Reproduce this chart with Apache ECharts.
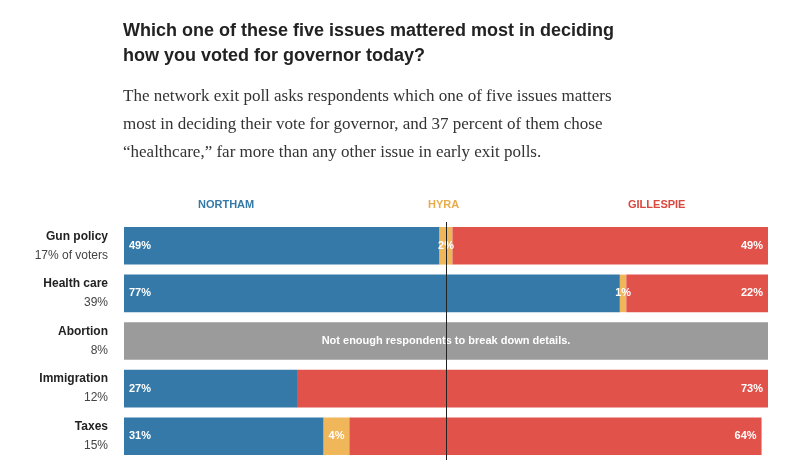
<!DOCTYPE html>
<html>
<head>
<meta charset="utf-8">
<script src="https://cdn.jsdelivr.net/npm/echarts@6/dist/echarts.min.js"></script>
<style>body{margin:0;background:#fff}#c{width:800px;height:476px}</style>
</head>
<body>
<div id="c"></div>
<script>
var issues = ['Gun policy', 'Health care', 'Abortion', 'Immigration', 'Taxes'];
var voterShare = ['17% of voters', '39%', '8%', '12%', '15%'];
var northam = [49, 77, null, 27, 31];
var hyra = [2, 1, null, 0, 4];
var gillespie = [49, 22, null, 73, 64];
var noData = [null, null, 100, null, null];

var chart = echarts.init(document.getElementById('c'));
var lbl = function (pos) {
    return {
        show: true, position: pos, color: '#fff', fontWeight: 'bold',
        fontSize: 11, fontFamily: 'Arial',
        formatter: function (p) { return p.value ? p.value + '%' : ''; }
    };
};
var option = {
    animation: false,
    title: {
        text: 'Which one of these five issues mattered most in deciding\nhow you voted for governor today?',
        left: 118, top: 14,
        textStyle: { fontFamily: 'Arial', fontSize: 18, fontWeight: 'bold', color: '#222', lineHeight: 25 },
        subtext: 'The network exit poll asks respondents which one of five issues matters\nmost in deciding their vote for governor, and 37 percent of them chose\n\u201chealthcare,\u201d far more than any other issue in early exit polls.',
        subtextStyle: { fontFamily: 'Liberation Serif', fontSize: 17, color: '#333', lineHeight: 28 },
        itemGap: 14
    },
    graphic: [
        { type: 'text', left: 198, top: 199, style: { text: 'NORTHAM', fill: '#3579a8', font: 'bold 11px Arial' } },
        { type: 'text', left: 428, top: 199, style: { text: 'HYRA', fill: '#e8ac4c', font: 'bold 11px Arial' } },
        { type: 'text', left: 628, top: 199, style: { text: 'GILLESPIE', fill: '#d9473f', font: 'bold 11px Arial' } }
    ],
    grid: { left: 124, right: 32, top: 222, bottom: 16 },
    xAxis: { type: 'value', min: 0, max: 100, show: false },
    yAxis: {
        type: 'category', data: issues, inverse: true,
        axisLine: { show: false }, axisTick: { show: false },
        axisLabel: {
            margin: 16, align: 'right',
            formatter: function (v, i) { return '{a|' + v + '}\n{b|' + voterShare[i] + '}'; },
            rich: {
                a: { fontFamily: 'Arial', fontWeight: 'bold', fontSize: 12, color: '#222', align: 'right', lineHeight: 19 },
                b: { fontFamily: 'Arial', fontSize: 12, color: '#444', align: 'right', lineHeight: 19 }
            }
        }
    },
    series: [
        { type: 'bar', stack: 's', name: 'Northam', data: northam, barCategoryGap: '21%',
          itemStyle: { color: '#3579a8' }, label: lbl('insideLeft') },
        { type: 'bar', stack: 's', name: 'Hyra', data: hyra,
          itemStyle: { color: '#f0b65a' }, label: lbl('inside') },
        { type: 'bar', stack: 's', name: 'Gillespie', data: gillespie,
          itemStyle: { color: '#e0524a' }, label: lbl('insideRight') },
        { type: 'bar', stack: 's', name: 'None', data: noData,
          itemStyle: { color: '#9b9b9b' },
          label: { show: true, position: 'inside', color: '#fff', fontWeight: 'bold', fontSize: 11, fontFamily: 'Arial',
                   formatter: 'Not enough respondents to break down details.' },
          markLine: { symbol: 'none', silent: true, label: { show: false },
                      lineStyle: { color: '#222', width: 1, type: 'solid' },
                      data: [{ xAxis: 50 }], z: 10 } }
    ]
};
chart.setOption(option);
</script>
</body>
</html>
